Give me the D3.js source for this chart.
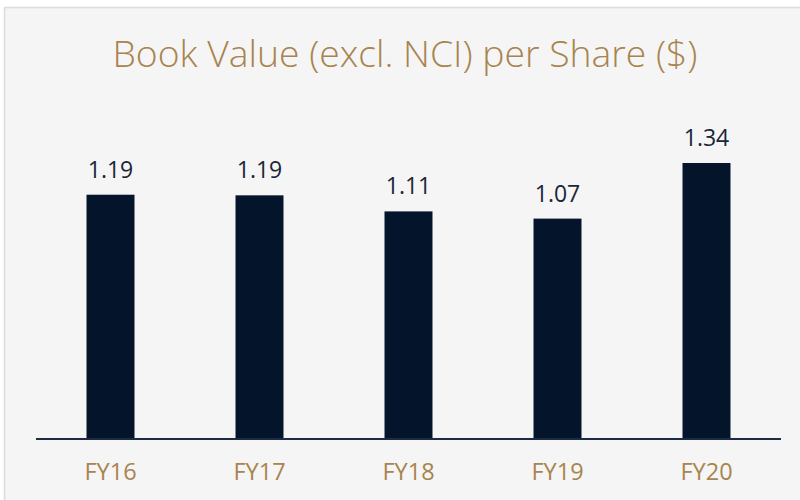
<!DOCTYPE html>
<html>
<head>
<meta charset="utf-8">
<script src="https://cdn.jsdelivr.net/npm/d3@7"></script>
<style>
  html, body { margin: 0; padding: 0; background: #ffffff; }
  svg { display: block; }
</style>
</head>
<body>
<svg id="chart" width="800" height="500"></svg>
<script>
// chart data (bar heights, labels as printed)
var years = ["FY16", "FY17", "FY18", "FY19", "FY20"];
var bookValue = [1.186, 1.183, 1.105, 1.07, 1.34];
var valueLabels = ["1.19", "1.19", "1.11", "1.07", "1.34"];
var title = "Book Value (excl. NCI) per Share ($)";

var gold = "#a8844f";
var navy = "#04142b";

var svg = d3.select("#chart");

// panel with light border
svg.append("rect")
    .attr("x", 4.5).attr("y", 7.5)
    .attr("width", 800).attr("height", 500)
    .attr("fill", "#f5f5f5")
    .attr("stroke", "#dcdcdc")
    .attr("stroke-width", 1.5);

var baseY = 439;

var x = d3.scaleBand()
    .domain(years)
    .range([36, 781])
    .paddingInner(0.678)
    .paddingOuter(0.339);

var y = d3.scaleLinear()
    .domain([0, 1.34])
    .range([baseY, 163]);

svg.append("text")
    .attr("x", 405)
    .attr("y", 67)
    .attr("text-anchor", "middle")
    .attr("font-family", "'Open Sans', sans-serif")
    .attr("font-weight", 300)
    .attr("font-size", 37)
    .attr("fill", gold)
    .attr("textLength", 585)
    .attr("lengthAdjust", "spacingAndGlyphs")
    .text(title);

svg.selectAll("rect.bar")
    .data(bookValue)
    .enter().append("rect")
    .attr("class", "bar")
    .attr("x", function (d, i) { return x(years[i]); })
    .attr("y", function (d) { return y(d); })
    .attr("width", x.bandwidth())
    .attr("height", function (d) { return baseY - y(d); })
    .attr("fill", navy);

svg.selectAll("text.val")
    .data(bookValue)
    .enter().append("text")
    .attr("class", "val")
    .attr("x", function (d, i) { return x(years[i]) + x.bandwidth() / 2; })
    .attr("y", function (d) { return y(d) - 17; })
    .attr("text-anchor", "middle")
    .attr("font-family", "'Open Sans', sans-serif")
    .attr("font-size", 23)
    .attr("fill", "#1a2638")
    .text(function (d, i) { return valueLabels[i]; });

// x axis
var xAxis = svg.append("g")
    .attr("transform", "translate(0," + baseY + ")")
    .call(d3.axisBottom(x).tickSize(0).tickPadding(24));
xAxis.select(".domain")
    .attr("stroke", "#1c2c44")
    .attr("stroke-width", 2)
    .attr("d", "M36,0H781");
xAxis.selectAll("text")
    .attr("font-family", "'Open Sans', sans-serif")
    .attr("font-size", 23.5)
    .attr("fill", gold)
    .attr("dy", "0.71em");
</script>
</body>
</html>
